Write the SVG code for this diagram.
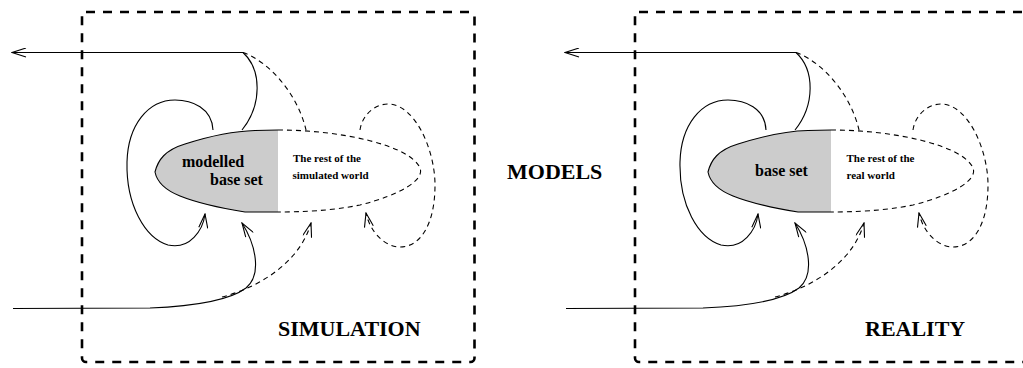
<svg xmlns="http://www.w3.org/2000/svg" width="1023" height="368" viewBox="0 0 1023 368">
<style>
.frame{fill:none;stroke:#000;stroke-width:2.6;stroke-dasharray:9 8}
.ln{fill:none;stroke:#000;stroke-width:1.1}
.dl{fill:none;stroke:#000;stroke-width:1.1;stroke-dasharray:5 4}
.core{fill:#cccccc;stroke:none}
.big{font-family:"Liberation Serif","Times New Roman","DejaVu Serif",serif;font-weight:bold;font-size:22px;fill:#000}
.mid{font-family:"Liberation Serif","Times New Roman","DejaVu Serif",serif;font-weight:bold;font-size:16px;fill:#000}
.sm{font-family:"Liberation Serif","Times New Roman","DejaVu Serif",serif;font-weight:bold;font-size:11px;fill:#000}
</style>
<defs>
<marker id="ah" viewBox="0 0 16 10" refX="15" refY="5" markerWidth="16" markerHeight="10" markerUnits="userSpaceOnUse" orient="auto-start-reverse">
<path d="M1,0.5 L15,5 L1,9.5" fill="none" stroke="#000" stroke-width="1.1"/>
</marker>
</defs>
<rect width="1023" height="368" fill="#fff"/>

<g id="simulation-frame">
<rect class="frame" x="82" y="12" width="392.5" height="350" rx="4"/>
<text class="big" x="278" y="336">SIMULATION</text>
</g>
<g id="reality-frame">
<rect class="frame" x="635" y="12" width="392.5" height="350" rx="4"/>
<text class="big" x="865" y="336">REALITY</text>
</g>
<g id="models-label">
<text class="big" x="507" y="179">MODELS</text>
</g>

<g id="modelled-base-set">
<path class="core" d="M278,130 L255,130.5 C235,131 210,136 185,144 C165,150 158,160 155,172 C157,182 165,190 180,196 C200,204 220,208 245,212 L278,212 Z"/>
<path class="ln" d="M278,130 L255,130.5 C235,131 210,136 185,144 C165,150 158,160 155,172 C157,182 165,190 180,196 C200,204 220,208 245,212 L278,212"/>
<text class="mid" x="182" y="167">modelled</text>
<text class="mid" x="210" y="185">base set</text>
</g>
<g id="simulated-world">
<path class="dl" d="M278,130 C340,130 410,145 420,168 C425,180 400,195 360,205 C330,211 300,212 278,212"/>
<text class="sm" x="293" y="162">The rest of the</text>
<text class="sm" x="292.5" y="179">simulated world</text>
</g>

<g id="base-set">
<path class="core" transform="translate(553,0)" d="M278,130 L255,130.5 C235,131 210,136 185,144 C165,150 158,160 155,172 C157,182 165,190 180,196 C200,204 220,208 245,212 L278,212 Z"/>
<path class="ln" transform="translate(553,0)" d="M278,130 L255,130.5 C235,131 210,136 185,144 C165,150 158,160 155,172 C157,182 165,190 180,196 C200,204 220,208 245,212 L278,212"/>
<text class="mid" x="755" y="176">base set</text>
</g>
<g id="real-world">
<path class="dl" transform="translate(553,0)" d="M278,130 C340,130 410,145 420,168 C425,180 400,195 360,205 C330,211 300,212 278,212"/>
<text class="sm" x="846.5" y="162">The rest of the</text>
<text class="sm" x="846.5" y="179">real world</text>
</g>

<g id="connectors">
<g id="sim-connectors">
<path class="ln" d="M12,52.5 L243,52.5" marker-start="url(#ah)"/>
<path class="ln" d="M243,52.5 C262,70 262,105 242,130"/>
<path class="dl" d="M243,52.5 C270,62 298,95 306,130"/>
<path class="ln" d="M213,130 C212,108 192,100 175,100 C148,100 128,125 127,162 C126,205 145,238 168,245 C190,250 203,230 205,214" marker-end="url(#ah)"/>
<path class="ln" d="M13,308.5 L150,308 C200,306 230,300 246,288 C262,275 256,245 242,223" marker-end="url(#ah)"/>
<path class="dl" d="M222,297 C260,287 300,262 311,223" marker-end="url(#ah)"/>
<path class="dl" d="M360,130 C362,115 375,104 388,104 C415,104 435,150 435,185 C435,225 420,247 400,247 C385,247 370,232 366,213" marker-end="url(#ah)"/>
</g>
<g id="real-connectors" transform="translate(553,0)">
<path class="ln" d="M12,52.5 L243,52.5" marker-start="url(#ah)"/>
<path class="ln" d="M243,52.5 C262,70 262,105 242,130"/>
<path class="dl" d="M243,52.5 C270,62 298,95 306,130"/>
<path class="ln" d="M213,130 C212,108 192,100 175,100 C148,100 128,125 127,162 C126,205 145,238 168,245 C190,250 203,230 205,214" marker-end="url(#ah)"/>
<path class="ln" d="M13,308.5 L150,308 C200,306 230,300 246,288 C262,275 256,245 242,223" marker-end="url(#ah)"/>
<path class="dl" d="M222,297 C260,287 300,262 311,223" marker-end="url(#ah)"/>
<path class="dl" d="M360,130 C362,115 375,104 388,104 C415,104 435,150 435,185 C435,225 420,247 400,247 C385,247 370,232 366,213" marker-end="url(#ah)"/>
</g>
</g>
</svg>
